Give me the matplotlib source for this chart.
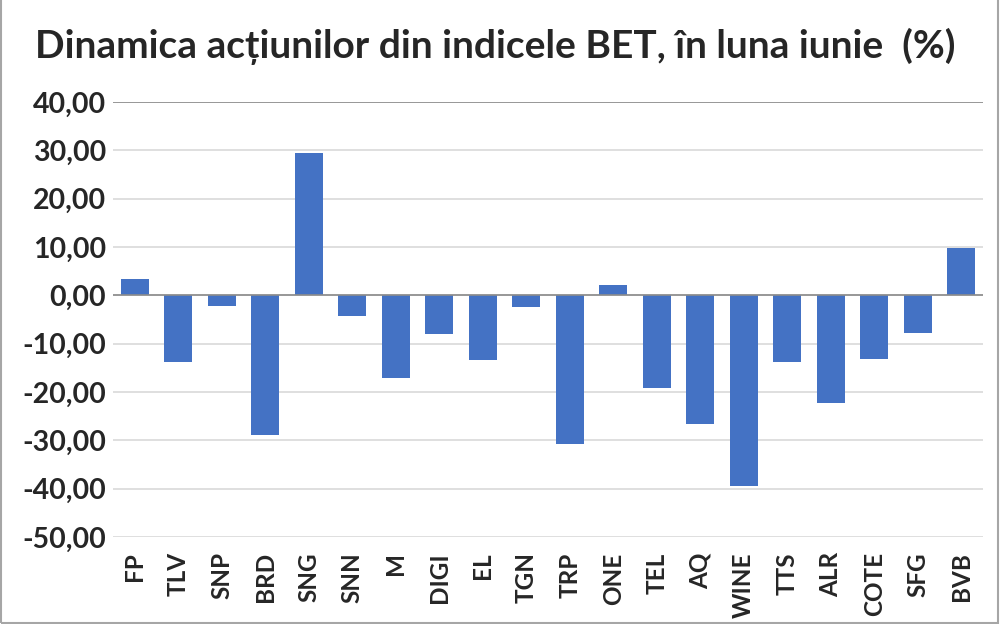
import matplotlib
matplotlib.use("Agg")
import matplotlib.pyplot as plt
from matplotlib.patches import Rectangle

# data (%)
simboluri = ["FP", "TLV", "SNP", "BRD", "SNG", "SNN", "M", "DIGI", "EL", "TGN",
             "TRP", "ONE", "TEL", "AQ", "WINE", "TTS", "ALR", "COTE", "SFG", "BVB"]
variatii = [3.4, -13.8, -2.1, -28.9, 29.4, -4.2, -17.2, -8.0, -13.4, -2.5,
            -30.8, 2.1, -19.1, -26.6, -39.4, -13.8, -22.3, -13.1, -7.7, 9.8]
yticks = [40, 30, 20, 10, 0, -10, -20, -30, -40, -50]

titlu = "Dinamica acțiunilor din indicele BET, în luna iunie  (%)"

plt.rcParams["font.family"] = ["Lato", "DejaVu Sans"]

fig = plt.figure(figsize=(10, 6.24), dpi=100)
ax = fig.add_axes([0.113, 0.1394, 0.870, 0.6971])

x = list(range(len(simboluri)))
ax.bar(x, variatii, width=0.64, color="#4472C4", zorder=3)

ax.set_xlim(-0.5, len(simboluri) - 0.5)
ax.set_ylim(-50, 40)
ax.set_yticks(yticks)
ax.set_yticklabels([f"{v:.2f}".replace(".", ",") for v in yticks],
                   fontsize=20.5, fontweight="bold", color="#262626")
ax.set_xticks(x)
ax.set_xticklabels(simboluri, rotation=90, fontsize=17.5, fontweight="bold",
                   color="#262626")
ax.tick_params(axis="both", length=0)
ax.tick_params(axis="y", pad=5)
ax.tick_params(axis="x", pad=11)

ax.grid(axis="y", color="#d9d9d9", linewidth=1.2, zorder=0)
for s in ax.spines.values():
    s.set_visible(False)
ax.axhline(0, color="#8c8c8c", linewidth=1.2, zorder=4)
ax.axhline(40, color="#8c8c8c", linewidth=1.2, zorder=4)

fig.text(0.035, 0.925, titlu, fontsize=28, fontweight="bold", color="#262626",
         ha="left", va="center")

# chart frame
fig.patches.append(Rectangle((0.001, 0.002), 0.997, 1.2, transform=fig.transFigure,
                             fill=False, edgecolor="#a6a6a6", linewidth=1.5))

fig.savefig("out.png", dpi=100)
